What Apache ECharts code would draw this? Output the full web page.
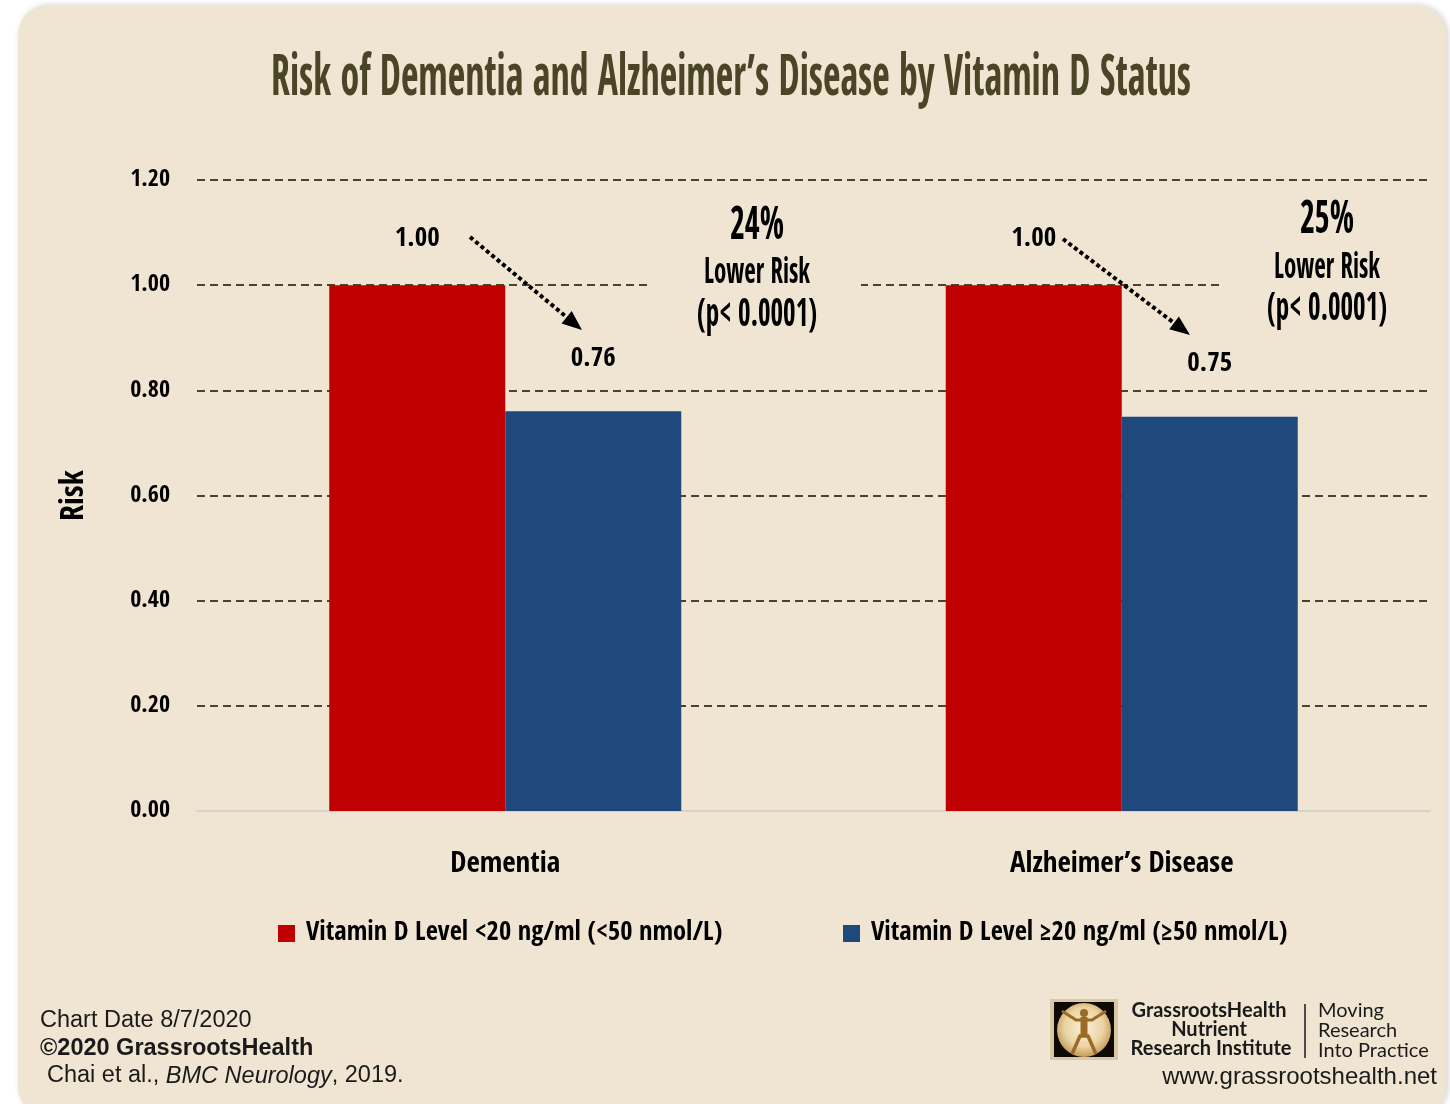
<!DOCTYPE html>
<html>
<head>
<meta charset="utf-8">
<title>Risk of Dementia and Alzheimer's Disease by Vitamin D Status</title>
<script src="https://cdn.jsdelivr.net/npm/echarts@6/dist/echarts.min.js"></script>
<style>
  html, body { margin: 0; padding: 0; background: #ffffff; }
  #chart { width: 1450px; height: 1104px; }
</style>
</head>
<body>
<div id="chart"></div>
<script>
// ---- data ----
const categories = ['Dementia', 'Alzheimer\u2019s Disease'];
const seriesNames = [
  'Vitamin D Level <20 ng/ml (<50 nmol/L)',
  'Vitamin D Level \u226520 ng/ml (\u226550 nmol/L)'
];
const riskLow = [1.00, 1.00];   // vitamin D < 20 ng/ml (reference group)
const riskHigh = [0.76, 0.75];  // vitamin D >= 20 ng/ml
const reductionText = ['24%', '25%'];
const pValueText = ['(p< 0.0001)', '(p< 0.0001)'];
const yMin = 0, yMax = 1.2, yStep = 0.2;

// ---- styling ----
const BG = '#F0E5D2';
const NARROW = '"Open Sans Condensed", "Roboto Condensed", "DejaVu Sans Condensed", sans-serif';
const SANS = '"Liberation Sans", Arial, sans-serif';
const LOGO = 'Lato, "Open Sans", sans-serif';

const chart = echarts.init(document.getElementById('chart'), null, { renderer: 'canvas' });

// width of a string in a given font
const measureCtx = document.createElement('canvas').getContext('2d');
function textWidth(text, font) {
  measureCtx.font = font;
  return measureCtx.measureText(text).width;
}
// a condensed heading: real text, horizontally scaled to the wanted width
function squeezed(text, cx, cy, size, width, color, z) {
  const font = 'bold ' + size + 'px ' + NARROW;
  const w = textWidth(text, font);
  return {
    type: 'text', x: cx, y: cy, z: z || 10,
    scaleX: width / w, scaleY: 1,
    style: { text: text, font: font, fill: color || '#000', align: 'center', verticalAlign: 'middle' }
  };
}
// dotted arrow between two points
function dottedArrow(x1, y1, x2, y2) {
  const dx = x2 - x1, dy = y2 - y1, len = Math.sqrt(dx * dx + dy * dy);
  const ux = dx / len, uy = dy / len, head = 20, half = 8;
  const bx = x2 - ux * head, by = y2 - uy * head;
  return [
    { type: 'line', z: 12, shape: { x1: x1, y1: y1, x2: bx + ux * 2, y2: by + uy * 2 },
      style: { stroke: '#000', lineWidth: 4, lineDash: [4, 3] } },
    { type: 'polygon', z: 12, shape: { points: [[x2, y2], [bx - uy * half, by + ux * half], [bx + uy * half, by - ux * half]] },
      style: { fill: '#000' } }
  ];
}

const graphics = [
  // rounded panel
  { type: 'rect', z: -10, shape: { x: 18, y: 5, width: 1428, height: 1112, r: 30 },
    style: { fill: BG, shadowColor: 'rgba(0,0,0,0.18)', shadowBlur: 6, shadowOffsetX: 2 } },
  // title
  squeezed('Risk of Dementia and Alzheimer\u2019s Disease by Vitamin D Status', 731, 80, 58, 920, '#4A4526'),
  // note backdrops (grid lines stop behind the notes)
  { type: 'rect', z: 5, shape: { x: 651, y: 196, width: 210, height: 140 }, style: { fill: BG } },
  { type: 'rect', z: 5, shape: { x: 1221, y: 190, width: 215, height: 140 }, style: { fill: BG } },
  // notes
  squeezed(reductionText[0], 757, 227, 46, 54),
  squeezed('Lower Risk', 757, 274, 36, 106),
  squeezed(pValueText[0], 757, 316, 40, 120),
  squeezed(reductionText[1], 1327, 221, 46, 54),
  squeezed('Lower Risk', 1327, 269, 36, 106),
  squeezed(pValueText[1], 1327, 310, 40, 120),
  // footer
  { type: 'text', x: 40, y: 1021, z: 10,
    style: { text: 'Chart Date 8/7/2020', font: '23.5px ' + SANS, fill: '#1a1a1a', verticalAlign: 'middle' } },
  { type: 'text', x: 40, y: 1049, z: 10,
    style: { text: '\u00A92020 GrassrootsHealth', font: 'bold 23.5px ' + SANS, fill: '#1a1a1a', verticalAlign: 'middle' } },
  { type: 'text', x: 47, y: 1076, z: 10,
    style: {
      text: 'Chai et al., {i|BMC Neurology}, 2019.', font: '23.5px ' + SANS, fill: '#1a1a1a', verticalAlign: 'middle',
      rich: { i: { font: 'italic 23.5px ' + SANS, fill: '#1a1a1a' } }
    } },
  // logo mark
  { type: 'rect', z: 10, shape: { x: 1050, y: 999, width: 68, height: 61 }, style: { fill: '#D9C8A4' } },
  { type: 'rect', z: 10, shape: { x: 1054, y: 1002, width: 60, height: 55 }, style: { fill: '#0d0a06' } },
  { type: 'circle', z: 11, shape: { cx: 1084, cy: 1030, r: 27 },
    style: { fill: new echarts.graphic.RadialGradient(0.5, 0.45, 0.6, [
      { offset: 0, color: '#FBF1DC' }, { offset: 0.6, color: '#EBD3A2' }, { offset: 1, color: '#B98C45' }]) } },
  { type: 'circle', z: 12, shape: { cx: 1084, cy: 1013, r: 4 }, style: { fill: '#9A6A26' } },
  { type: 'polyline', z: 12, shape: { points: [[1062, 1011], [1076, 1020], [1092, 1020], [1106, 1011]] },
    style: { stroke: '#9A6A26', lineWidth: 3, fill: null } },
  { type: 'polyline', z: 12, shape: { points: [[1084, 1017], [1084, 1036]] },
    style: { stroke: '#9A6A26', lineWidth: 7, fill: null } },
  { type: 'polyline', z: 12, shape: { points: [[1072, 1054], [1080, 1036], [1088, 1036], [1096, 1054]] },
    style: { stroke: '#9A6A26', lineWidth: 3.5, fill: null } },
  // logo words
  { type: 'text', x: 1209, y: 1011, z: 10, style: { text: 'GrassrootsHealth', font: 'bold 20px ' + LOGO, fill: '#1a1a1a', align: 'center', verticalAlign: 'middle' } },
  { type: 'text', x: 1209, y: 1030, z: 10, style: { text: 'Nutrient', font: 'bold 20px ' + LOGO, fill: '#1a1a1a', align: 'center', verticalAlign: 'middle' } },
  { type: 'text', x: 1211, y: 1049, z: 10, style: { text: 'Research Institute', font: 'bold 20px ' + LOGO, fill: '#1a1a1a', align: 'center', verticalAlign: 'middle' } },
  { type: 'line', z: 10, shape: { x1: 1305, y1: 1004, x2: 1305, y2: 1058 }, style: { stroke: '#1a1a1a', lineWidth: 1.5 } },
  { type: 'text', x: 1318, y: 1011, z: 10, style: { text: 'Moving', font: '20px ' + LOGO, fill: '#1a1a1a', verticalAlign: 'middle' } },
  { type: 'text', x: 1318, y: 1031, z: 10, style: { text: 'Research', font: '20px ' + LOGO, fill: '#1a1a1a', verticalAlign: 'middle' } },
  { type: 'text', x: 1318, y: 1051, z: 10, style: { text: 'Into Practice', font: '20px ' + LOGO, fill: '#1a1a1a', verticalAlign: 'middle' } },
  { type: 'text', x: 1437, y: 1077, z: 10, style: { text: 'www.grassrootshealth.net', font: '24px ' + SANS, fill: '#1a1a1a', align: 'right', verticalAlign: 'middle' } }
].concat(dottedArrow(470, 237, 582, 330), dottedArrow(1063, 239, 1190, 335));

const labelFont = { color: '#000', fontFamily: NARROW, fontWeight: 'bold', fontSize: 27 };

// legend: first entry starts at 278, second at 843
const legendFontSize = 26.5;
const legendIcon = 17, legendTextPad = 6;
const firstLegendWidth = legendIcon + 5 + legendTextPad +
  textWidth(seriesNames[0], 'bold ' + legendFontSize + 'px ' + NARROW);
const legendGap = Math.max(20, 843 - 278 - firstLegendWidth);

const option = {
  backgroundColor: 'transparent',
  animation: false,
  grid: { left: 197, right: 20, top: 180, bottom: 293, containLabel: false },
  legend: {
    left: 278, top: 920, padding: 0, itemGap: legendGap, itemWidth: legendIcon, itemHeight: legendIcon, icon: 'rect',
    textStyle: { color: '#000', fontFamily: NARROW, fontWeight: 'bold', fontSize: legendFontSize,
      padding: [0, 0, 0, legendTextPad] },
    data: seriesNames
  },
  xAxis: {
    type: 'category', data: categories,
    axisLine: { show: true, lineStyle: { color: '#D6D3CC', width: 2 } },
    axisTick: { show: false },
    axisLabel: { margin: 39, color: '#000', fontFamily: NARROW, fontWeight: 'bold', fontSize: 29 }
  },
  yAxis: {
    type: 'value', min: yMin, max: yMax, interval: yStep,
    name: 'Risk', nameLocation: 'middle', nameRotate: 90, nameGap: 106,
    nameTextStyle: { color: '#000', fontFamily: NARROW, fontWeight: 'bold', fontSize: 32 },
    axisLine: { show: false }, axisTick: { show: false },
    axisLabel: { margin: 27, color: '#000', fontFamily: NARROW, fontWeight: 'bold', fontSize: 24,
      formatter: v => v.toFixed(2) },
    splitLine: { lineStyle: { color: '#4A4526', width: 1.8, type: [8, 5] } }
  },
  series: [
    { name: seriesNames[0], type: 'bar', data: riskLow, barWidth: 176, barGap: '0%',
      itemStyle: { color: '#C00000' },
      label: Object.assign({ show: true, position: 'top', distance: 33, formatter: p => p.value.toFixed(2) }, labelFont) },
    { name: seriesNames[1], type: 'bar', data: riskHigh, barWidth: 176, barGap: '0%',
      itemStyle: { color: '#1F497D' },
      label: Object.assign({ show: true, position: 'top', distance: 39, formatter: p => p.value.toFixed(2) }, labelFont) }
  ],
  graphic: { elements: graphics }
};

chart.setOption(option);
</script>
</body>
</html>
